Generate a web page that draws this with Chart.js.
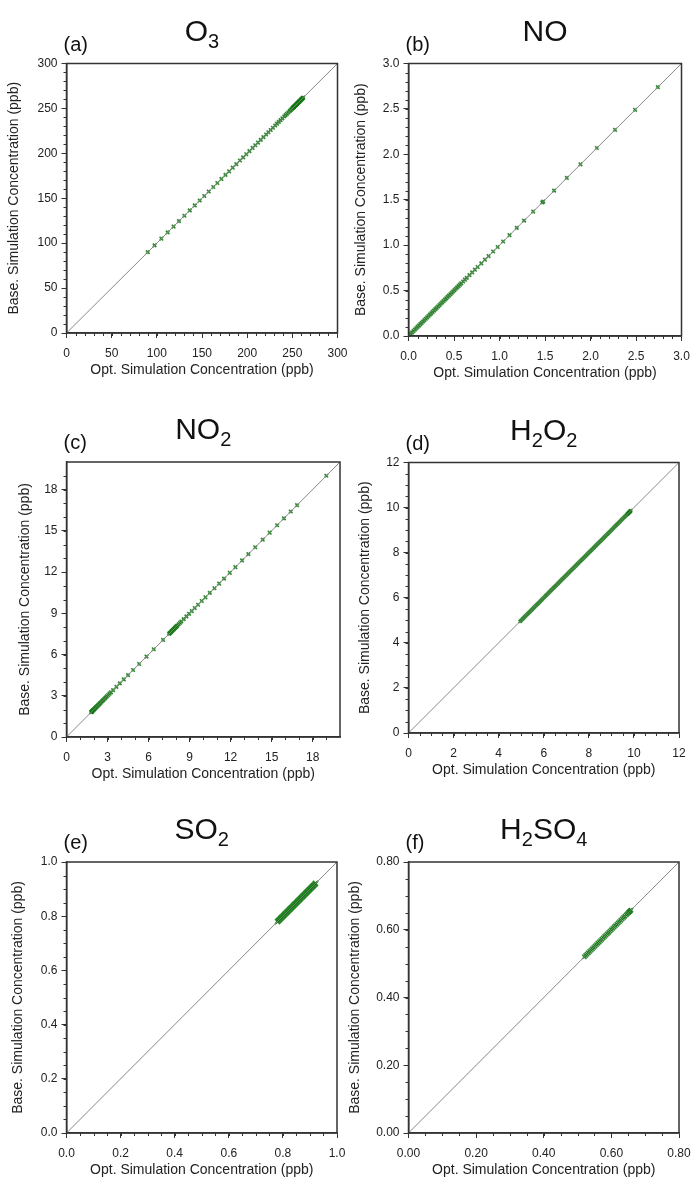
<!DOCTYPE html>
<html>
<head>
<meta charset="utf-8">
<script src="https://cdn.jsdelivr.net/npm/chart.js@4.4.0/dist/chart.umd.min.js"></script>
<style>
  html, body { margin: 0; padding: 0; background: #fff; }
  body { width: 692px; height: 1183px; position: relative; overflow: hidden;
         font-family: "Liberation Sans", Arial, Helvetica, sans-serif; color: #111; }
  canvas { position: absolute; }
  .ttl { position: absolute; font-size: 30px; line-height: 30px; white-space: nowrap; transform: translateX(-50%); }
  .ttl sub { font-size: 20px; line-height: 0; vertical-align: -7px; }
  .lbl { position: absolute; font-size: 20px; line-height: 20px; white-space: nowrap; }
</style>
</head>
<body>
<script>
// Opt. vs Base. simulation concentrations (ppb); every point sits on the 1:1 line,
// so one list per species gives both coordinates.
const o3Values = [90, 97.5, 105, 112, 118.5, 124.5, 130.5, 136.5, 142, 147.5, 152.5, 157.5, 162.5, 167,
  171.5, 176, 180, 184, 188, 192, 195.5, 199, 202.5, 206, 209, 212, 215, 218, 221, 223.5, 226, 228.5,
  231, 233, 235, 237, 239, 241, 242.5, 244, 245.5, 247, 248, 249, 250, 250.5, 251, 251.5, 252, 252.5,
  253, 253.5, 254, 254.5, 255, 255.5, 256, 256.5, 257, 257.5, 258, 258.5, 259, 259.5, 260, 260.5,
  261, 261.5, 262];
const noValues = [2.74, 2.49, 2.27, 2.07, 1.89, 1.74, 1.60, 1.48, 1.47, 1.37, 1.27, 1.19, 1.11, 1.04,
  0.98, 0.93, 0.88, 0.84, 0.80, 0.76, 0.73, 0.70, 0.67, 0.64, 0.62, 0.60, 0.58, 0.565, 0.55, 0.535,
  0.52, 0.505, 0.49, 0.475, 0.46, 0.445, 0.43, 0.415, 0.40, 0.385, 0.37, 0.355, 0.34, 0.325, 0.31,
  0.295, 0.28, 0.265, 0.25, 0.235, 0.22, 0.205, 0.19, 0.175, 0.16, 0.145, 0.13, 0.115, 0.10, 0.085,
  0.07, 0.055, 0.04, 0.025, 0.015, 0.01, 0.005, 0.0];
const no2Values = [19.0, 16.86, 16.4, 15.9, 15.4, 14.86, 14.35, 13.8, 13.3, 12.84, 12.35, 11.94, 11.52,
  11.16, 10.82, 10.48, 10.16, 9.89, 9.62, 9.38, 9.16, 8.96, 8.77, 8.57, 8.4, 8.3, 8.2, 8.1, 8.05, 8.0,
  7.95, 7.9, 7.85, 7.8, 7.75, 7.7, 7.65, 7.6, 7.55, 7.5, 7.06, 6.38, 5.85, 5.31, 4.87, 4.5, 4.19, 3.9,
  3.65, 3.41, 3.25, 3.15, 3.05, 2.95, 2.87, 2.8, 2.72, 2.65, 2.58, 2.5, 2.44, 2.38, 2.32, 2.26, 2.2,
  2.15, 2.1, 2.05, 2.0, 1.96, 1.92, 1.88, 1.85, 1.82, 1.8];
const h2o2Values = [4.95, 5.0, 5.05, 5.1, 5.15, 5.2, 5.25, 5.3, 5.35, 5.4, 5.45, 5.5, 5.55, 5.6, 5.65,
  5.7, 5.75, 5.8, 5.85, 5.9, 5.95, 6.0, 6.05, 6.1, 6.15, 6.2, 6.25, 6.3, 6.35, 6.4, 6.45, 6.5, 6.55,
  6.6, 6.65, 6.7, 6.75, 6.8, 6.85, 6.9, 6.95, 7.0, 7.05, 7.1, 7.15, 7.2, 7.25, 7.3, 7.35, 7.4, 7.45,
  7.5, 7.55, 7.6, 7.65, 7.7, 7.75, 7.8, 7.85, 7.9, 7.95, 8.0, 8.05, 8.1, 8.15, 8.2, 8.25, 8.3, 8.35,
  8.4, 8.45, 8.5, 8.55, 8.6, 8.65, 8.7, 8.75, 8.8, 8.85, 8.9, 8.95, 9.0, 9.05, 9.1, 9.15, 9.2, 9.25,
  9.3, 9.35, 9.4, 9.45, 9.5, 9.55, 9.6, 9.65, 9.7, 9.72, 9.74, 9.76, 9.78, 9.8, 9.82, 9.84, 9.86];
const so2Values = [0.780, 0.783, 0.786, 0.789, 0.792, 0.795, 0.798, 0.801, 0.804, 0.807, 0.810, 0.813,
  0.816, 0.819, 0.822, 0.825, 0.828, 0.831, 0.834, 0.837, 0.840, 0.843, 0.846, 0.849, 0.852, 0.855,
  0.858, 0.861, 0.864, 0.867, 0.870, 0.873, 0.876, 0.879, 0.882, 0.885, 0.888, 0.891, 0.894, 0.897,
  0.900, 0.903, 0.906, 0.909, 0.912, 0.915, 0.918, 0.921];
const h2so4Values = [0.520, 0.524, 0.528, 0.532, 0.536, 0.540, 0.544, 0.548, 0.552, 0.556, 0.560, 0.564,
  0.568, 0.572, 0.576, 0.580, 0.584, 0.588, 0.592, 0.596, 0.600, 0.604, 0.608, 0.612, 0.616, 0.620,
  0.624, 0.628, 0.632, 0.636, 0.640, 0.644, 0.647, 0.650, 0.652, 0.654, 0.656, 0.658];

// axis ranges (also the ends of the 1:1 line)
const o3Range = [0, 300];
const noRange = [0, 3];
const no2Range = [0, 20];
const h2o2Range = [0, 12];
const so2Range = [0, 1];
const h2so4Range = [0, 0.8];

// major ticks and their labels
const o3Ticks = [0, 50, 100, 150, 200, 250, 300];
const o3TickLabels = ['0', '50', '100', '150', '200', '250', '300'];
const noTicks = [0, 0.5, 1, 1.5, 2, 2.5, 3];
const noTickLabels = ['0.0', '0.5', '1.0', '1.5', '2.0', '2.5', '3.0'];
const no2Ticks = [0, 3, 6, 9, 12, 15, 18];
const no2TickLabels = ['0', '3', '6', '9', '12', '15', '18'];
const h2o2Ticks = [0, 2, 4, 6, 8, 10, 12];
const h2o2TickLabels = ['0', '2', '4', '6', '8', '10', '12'];
const so2Ticks = [0, 0.2, 0.4, 0.6, 0.8, 1.0];
const so2TickLabels = ['0.0', '0.2', '0.4', '0.6', '0.8', '1.0'];
const h2so4Ticks = [0, 0.2, 0.4, 0.6, 0.8];
const h2so4TickLabels = ['0.00', '0.20', '0.40', '0.60', '0.80'];

const X_TITLE = 'Opt. Simulation Concentration (ppb)';
const Y_TITLE = 'Base. Simulation Concentration (ppb)';
const FONT = '"Liberation Sans", Arial, Helvetica, sans-serif';
const INK = '#333';
const GREEN = 'rgba(10,118,10,0.85)';

// plot box (L,T,R,B) in page pixels, y-title centre, canvas box, marker size
const panels = [
  { tag: '(a)', title: 'O<sub>3</sub>', values: o3Values, range: o3Range, ticks: o3Ticks, labels: o3TickLabels, minor: 10,
    L: 66.5, T: 63.5, R: 337.5, B: 333, yTitleX: 14, cx: 0, cy: 0, cw: 358, ch: 395, r: 2.5 },
  { tag: '(b)', title: 'NO', values: noValues, range: noRange, ticks: noTicks, labels: noTickLabels, minor: 0.1,
    L: 408.5, T: 63.5, R: 681.5, B: 336, yTitleX: 361, cx: 346, cy: 0, cw: 346, ch: 395, r: 2.5 },
  { tag: '(c)', title: 'NO<sub>2</sub>', values: no2Values, range: no2Range, ticks: no2Ticks, labels: no2TickLabels, minor: 1,
    L: 66.5, T: 462, R: 340, B: 737, yTitleX: 25, cx: 0, cy: 395, cw: 358, ch: 395, r: 2.5 },
  { tag: '(d)', title: 'H<sub>2</sub>O<sub>2</sub>', values: h2o2Values, range: h2o2Range, ticks: h2o2Ticks, labels: h2o2TickLabels, minor: 0.5,
    L: 408.5, T: 462.5, R: 679, B: 733, yTitleX: 365, cx: 346, cy: 395, cw: 346, ch: 395, r: 2.2 },
  { tag: '(e)', title: 'SO<sub>2</sub>', values: so2Values, range: so2Range, ticks: so2Ticks, labels: so2TickLabels, minor: 0.05,
    L: 66.5, T: 862, R: 337, B: 1133, yTitleX: 18, cx: 0, cy: 790, cw: 358, ch: 393, r: 3.5 },
  { tag: '(f)', title: 'H<sub>2</sub>SO<sub>4</sub>', values: h2so4Values, range: h2so4Range, ticks: h2so4Ticks, labels: h2so4TickLabels, minor: 0.05,
    L: 408.5, T: 862, R: 679, B: 1133, yTitleX: 355, cx: 346, cy: 790, cw: 346, ch: 393, r: 3 },
];

// minor ticks (outward) and the closed frame round the plot
const frameAndMinor = {
  id: 'frameAndMinor',
  afterDraw(chart, args, opts) {
    const { ctx, chartArea: a, scales } = chart;
    const [lo, hi] = opts.range;
    const n = Math.round((hi - lo) / opts.step);
    ctx.save();
    ctx.strokeStyle = INK;
    ctx.lineWidth = 1;
    ctx.beginPath();
    for (let i = 1; i < n; i++) {
      const v = lo + i * opts.step;
      const px = Math.round(scales.x.getPixelForValue(v)) + 0.5;
      const py = Math.round(scales.y.getPixelForValue(v)) + 0.5;
      ctx.moveTo(px, a.bottom); ctx.lineTo(px, a.bottom + 3);
      ctx.moveTo(a.left, py); ctx.lineTo(a.left - 3, py);
    }
    ctx.stroke();
    ctx.lineWidth = 1.5;
    ctx.strokeRect(a.left, a.top, a.right - a.left, a.bottom - a.top);
    ctx.restore();
  }
};

function addText(cls, html, left, top) {
  const d = document.createElement('div');
  d.className = cls;
  d.innerHTML = html;
  d.style.left = left + 'px';
  d.style.top = top + 'px';
  document.body.appendChild(d);
}

function drawPanel(p) {
  const cv = document.createElement('canvas');
  cv.width = p.cw; cv.height = p.ch;
  cv.style.left = p.cx + 'px'; cv.style.top = p.cy + 'px';
  document.body.appendChild(cv);

  const titleLH = 14 * 1.2;
  const xAxisH = 37 + titleLH / 2;
  const padLeft = p.yTitleX - p.cx - titleLH / 2;
  const yAxisW = p.L - p.cx - padLeft;

  const axis = (pos, size) => ({
    type: 'linear',
    position: pos,
    min: p.range[0],
    max: p.range[1],
    afterBuildTicks: s => { s.ticks = p.ticks.map(v => ({ value: v })); },
    afterFit: s => {
      if (pos === 'bottom') s.height = size; else s.width = size;
      s.paddingLeft = s.paddingRight = s.paddingTop = s.paddingBottom = 0;
    },
    grid: { display: true, drawOnChartArea: false, drawTicks: true, tickLength: 5, tickColor: INK, tickWidth: 1 },
    border: { display: true, color: INK, width: 1.5 },
    ticks: {
      autoSkip: false, maxRotation: 0, padding: pos === 'bottom' ? 8 : 4,
      color: '#222', font: { family: FONT, size: 12 },
      callback: (v, i) => p.labels[i]
    },
    title: { display: true, text: pos === 'bottom' ? X_TITLE : Y_TITLE, color: '#222',
             font: { family: FONT, size: 14 }, padding: 0 }
  });

  new Chart(cv, {
    data: {
      datasets: [
        { type: 'line', data: p.range.map(v => ({ x: v, y: v })), borderColor: '#888',
          borderWidth: 1, pointRadius: 0, order: 0 },
        { type: 'scatter', data: p.values.map(v => ({ x: v, y: v })), pointStyle: 'crossRot',
          pointRadius: p.r, borderColor: GREEN, borderWidth: 1.6, order: 1 }
      ]
    },
    options: {
      responsive: false,
      animation: false,
      devicePixelRatio: 1,
      layout: { padding: { left: padLeft, top: p.T - p.cy, right: p.cx + p.cw - p.R,
                           bottom: p.cy + p.ch - p.B - xAxisH } },
      plugins: { legend: { display: false }, tooltip: { enabled: false },
                 frameAndMinor: { range: p.range, step: p.minor } },
      scales: { x: axis('bottom', xAxisH), y: axis('left', yAxisW) }
    },
    plugins: [frameAndMinor]
  });

  addText('ttl', p.title, (p.L + p.R) / 2, p.T - 33 - 15);
  addText('lbl', p.tag, p.L - 3, p.T - 20 - 10);
}

panels.forEach(drawPanel);
</script>
</body>
</html>
